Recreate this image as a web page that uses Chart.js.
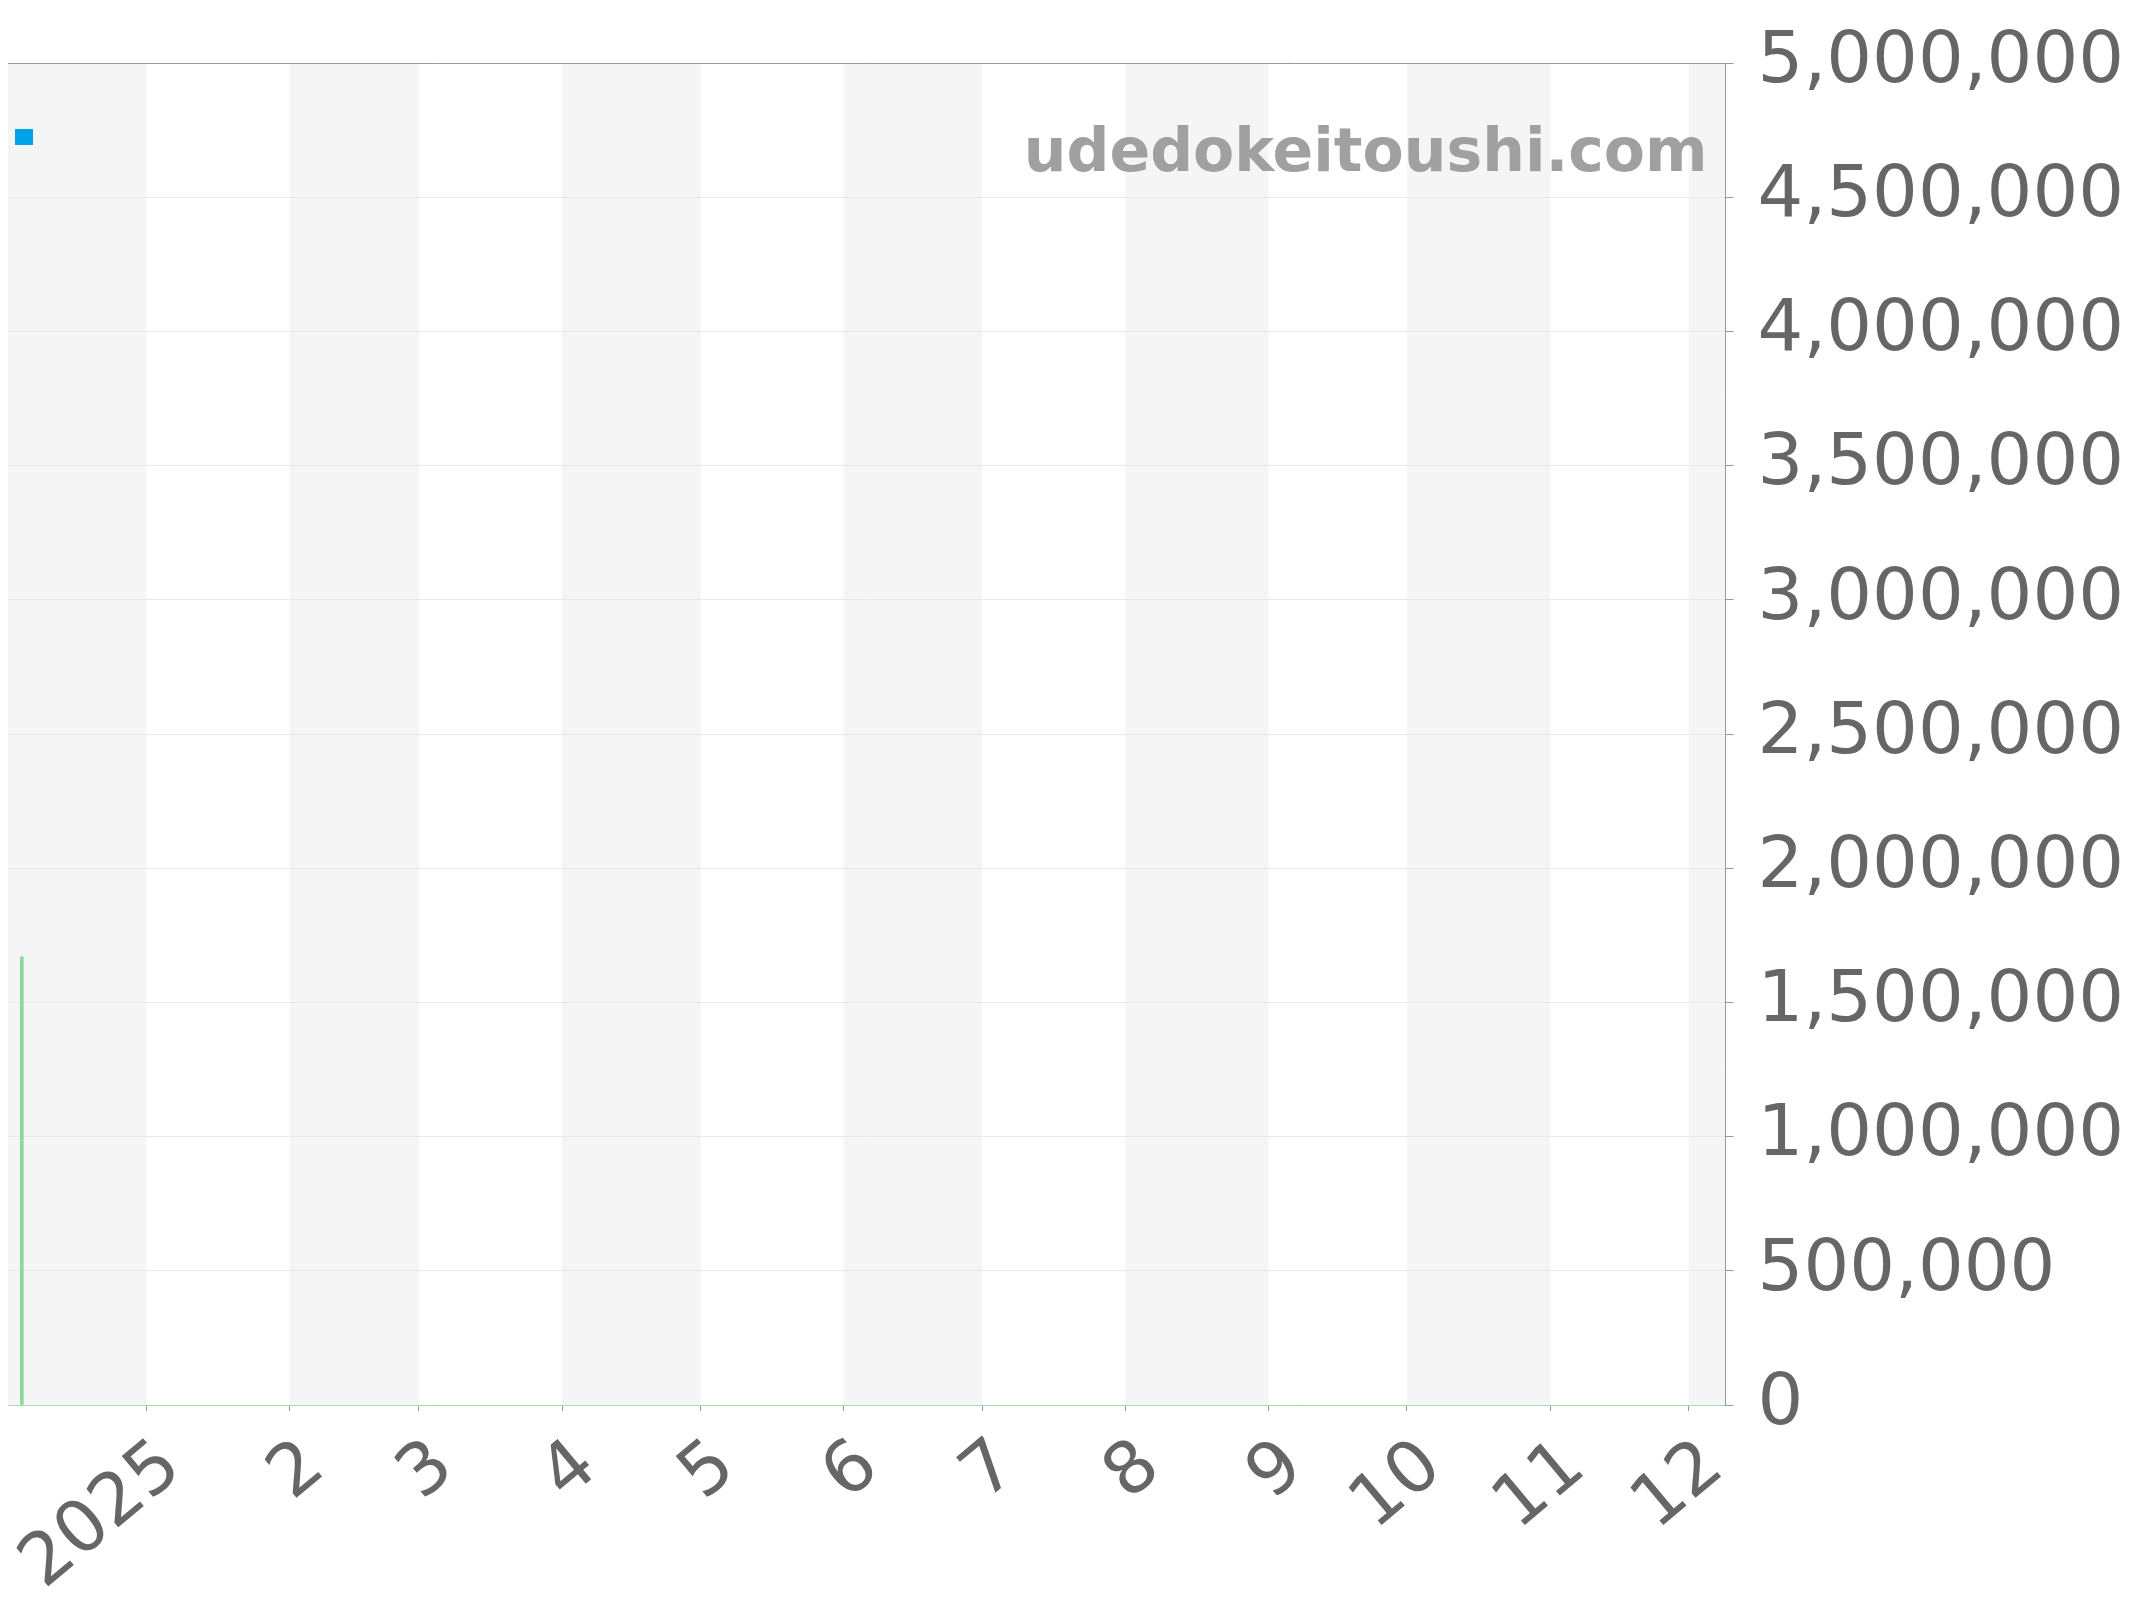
<!DOCTYPE html>
<html>
<head>
<meta charset="utf-8">
<script src="https://cdn.jsdelivr.net/npm/chart.js@4.4.1/dist/chart.umd.min.js"></script>
<style>
  html, body { margin: 0; padding: 0; background: #fff; }
  #chart { display: block; }
</style>
</head>
<body>
<canvas id="chart" width="2144" height="1600"></canvas>
<script>
// x axis runs in days counted from 2025-01-01
const rangeStart = "2024-12-02";
const rangeEnd = "2025-12-09";
const monthStarts = ["2024-12-01", "2025-01-01", "2025-02-01", "2025-03-01", "2025-04-01", "2025-05-01",
    "2025-06-01", "2025-07-01", "2025-08-01", "2025-09-01", "2025-10-01", "2025-11-01", "2025-12-01"];
const tickDates = monthStarts.slice(1);
const tickLabels = ["2025", "2", "3", "4", "5", "6", "7", "8", "9", "10", "11", "12"];

// blue series has nothing inside this window, only its legend box shows
const priceDates = [];
const priceValues = [];

const volumeDates = ["2024-12-05"];
const volumeValues = [1670000];

const yTicks = [0, 500000, 1000000, 1500000, 2000000, 2500000, 3000000, 3500000, 4000000, 4500000, 5000000];

function dayNum(s) {
    const p = s.split("-").map(Number);
    return Math.round((Date.UTC(p[0], p[1] - 1, p[2]) - Date.UTC(2025, 0, 1)) / 86400000);
}

const FONT = "'DejaVu Sans', sans-serif";

const bandsPlugin = {
    id: "bands",
    beforeDraw(chart) {
        const { ctx, chartArea: a, scales: { x } } = chart;
        ctx.save();
        ctx.beginPath();
        ctx.rect(a.left, a.top, a.right - a.left, a.bottom - a.top);
        ctx.clip();
        ctx.fillStyle = "#f5f5f5";
        monthStarts.forEach((m, i) => {
            if (i % 2 !== 0) return;
            const x0 = x.getPixelForValue(dayNum(m));
            const x1 = i + 1 < monthStarts.length ? x.getPixelForValue(dayNum(monthStarts[i + 1])) : a.right;
            ctx.fillRect(x0, a.top, x1 - x0, a.bottom - a.top);
        });
        ctx.restore();
    }
};

const overlayPlugin = {
    id: "overlay",
    afterDraw(chart) {
        const { ctx, chartArea: a } = chart;
        ctx.save();
        // legend box of the blue series
        ctx.fillStyle = chart.data.datasets[0].borderColor;
        ctx.fillRect(a.left + 7, a.top + 66, 18, 16);
        // watermark
        ctx.font = "bold 60px " + FONT;
        ctx.fillStyle = "#a0a0a0";
        ctx.textAlign = "right";
        ctx.textBaseline = "alphabetic";
        ctx.fillText("udedokeitoushi.com", a.right - 18, a.top + 108);
        ctx.restore();
    }
};

const ctx = document.getElementById("chart").getContext("2d");
const chart = new Chart(ctx, {
    type: "bar",
    data: {
        datasets: [{
            type: "line",
            label: "",
            data: priceDates.map((d, i) => ({ x: dayNum(d), y: priceValues[i] })),
            borderColor: "#00a2e8",
            backgroundColor: "#00a2e8",
            borderWidth: 2,
            pointRadius: 0
        }, {
            type: "bar",
            label: "",
            data: volumeDates.map((d, i) => ({ x: dayNum(d), y: volumeValues[i] })),
            backgroundColor: "#8ed99a",
            borderWidth: 0,
            barThickness: 3
        }]
    },
    options: {
        responsive: false,
        animation: false,
        devicePixelRatio: 1,
        layout: { padding: { left: 8, top: 63, right: -4, bottom: 0 } },
        plugins: {
            legend: { display: false },
            tooltip: { enabled: false }
        },
        scales: {
            x: {
                type: "linear",
                offset: false,
                min: dayNum(rangeStart),
                max: dayNum(rangeEnd),
                afterBuildTicks: axis => {
                    axis.ticks = tickDates.map(d => ({ value: dayNum(d) }));
                },
                afterFit: axis => {
                    axis.paddingLeft = 0;
                    axis.paddingRight = 0;
                    axis.height = 195;
                },
                grid: { offset: false, drawOnChartArea: false, drawTicks: true, tickLength: 6, tickColor: "#999" },
                border: { color: "#a6dcae", dash: [3, 2], width: 1 },
                ticks: {
                    autoSkip: false,
                    minRotation: 40,
                    maxRotation: 40,
                    padding: 19,
                    labelOffset: 26,
                    color: "#666",
                    font: { family: FONT, size: 72, lineHeight: 1.0 },
                    callback: (value, index) => tickLabels[index]
                }
            },
            y: {
                position: "right",
                min: 0,
                max: 5000000,
                afterBuildTicks: axis => {
                    axis.ticks = yTicks.map(v => ({ value: v }));
                },
                grid: {
                    color: c => (c.tick && c.tick.value === 5000000 ? "#999" : "#e8e8e8"),
                    tickColor: "#999",
                    tickLength: 8,
                    lineWidth: 1
                },
                border: { color: "#999", width: 1 },
                ticks: {
                    padding: 24,
                    color: "#666",
                    font: { family: FONT, size: 72, lineHeight: 1.0 },
                    callback: v => v.toLocaleString("en-US")
                }
            }
        }
    },
    plugins: [bandsPlugin, overlayPlugin]
});
</script>
</body>
</html>
